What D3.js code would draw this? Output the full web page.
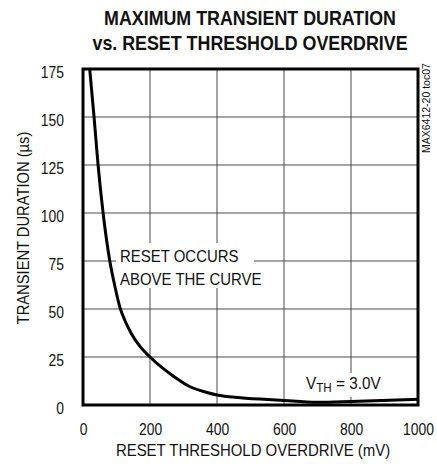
<!DOCTYPE html>
<html>
<head>
<meta charset="utf-8">
<script src="https://cdn.jsdelivr.net/npm/d3@7"></script>
<style>
  body { margin: 0; background: #fff; }
  text { font-family: "Liberation Sans", Arial, sans-serif; fill: #111; }
</style>
</head>
<body>
<script>
// overdrive (mV) vs max transient duration (us)
const overdrive = [20, 33, 45, 60, 80, 95, 110, 125, 145, 170, 200, 270, 320, 370, 400, 470, 590, 700, 800, 1000];
const duration  = [175, 150, 125, 100, 75, 62, 51, 44, 37, 30.5, 25, 15, 9.5, 6.5, 5.2, 3.8, 2.5, 1.4, 1.8, 3];

const xTicks = [0, 200, 400, 600, 800, 1000];
const yTicks = [0, 25, 50, 75, 100, 125, 150, 175];

const titleLines = ["MAXIMUM TRANSIENT DURATION", "vs. RESET THRESHOLD OVERDRIVE"];

const width = 437, height = 470;
const plotL = 83, plotR = 418, plotT = 69, plotB = 405;

const svg = d3.select("body").append("svg")
    .attr("width", width)
    .attr("height", height);

// no narrow font installed, so text is drawn inside a horizontally squeezed group
function label(x0, y0, str, size, sx, opts = {}) {
    const g = svg.append("g")
        .attr("transform", `translate(${x0}, ${y0})` + (opts.rot ? ` rotate(${opts.rot})` : "") + ` scale(${sx}, 1)`);
    const t = g.append("text")
        .attr("text-anchor", opts.anchor || "start")
        .style("font-size", size + "px")
        .style("font-weight", opts.bold ? "bold" : "normal")
        .text(str);
    return t;
}

const x = d3.scaleLinear().domain([0, 1000]).range([plotL, plotR]);
const y = d3.scaleLinear().domain([0, 175]).range([plotB, plotT]);

// title
titleLines.forEach((d, i) => label(250, 25 + i * 25, d, 21, 0.85, { anchor: "middle", bold: true }));

// grid
const grid = svg.append("g");
grid.selectAll(".vx")
    .data(xTicks.slice(1, -1))
    .enter().append("line")
    .attr("x1", d => x(d)).attr("x2", d => x(d))
    .attr("y1", plotT).attr("y2", plotB)
    .attr("stroke", "#4a4a4a").attr("stroke-width", 1);
grid.selectAll(".hy")
    .data(yTicks.slice(1, -1))
    .enter().append("line")
    .attr("y1", d => y(d)).attr("y2", d => y(d))
    .attr("x1", plotL).attr("x2", plotR)
    .attr("stroke", "#4a4a4a").attr("stroke-width", 1);

// curve, clipped to the frame
svg.append("clipPath").attr("id", "clip")
    .append("rect")
    .attr("x", plotL).attr("y", plotT)
    .attr("width", plotR - plotL).attr("height", plotB - plotT);

const pts = overdrive.map((v, i) => [v, duration[i]]);
const line = d3.line()
    .x(d => x(d[0]))
    .y(d => y(d[1]))
    .curve(d3.curveMonotoneX);

// annotation boxes hide the grid behind the text
svg.append("rect")
    .attr("x", 116).attr("y", 243).attr("width", 138).attr("height", 45)
    .attr("fill", "#fff");
svg.append("rect")
    .attr("x", 302).attr("y", 373).attr("width", 84).attr("height", 24)
    .attr("fill", "#fff");

svg.append("path")
    .datum(pts)
    .attr("clip-path", "url(#clip)")
    .attr("d", line)
    .attr("fill", "none")
    .attr("stroke", "#000")
    .attr("stroke-width", 3);

// frame
svg.append("rect")
    .attr("x", plotL).attr("y", plotT)
    .attr("width", plotR - plotL).attr("height", plotB - plotT)
    .attr("fill", "none")
    .attr("stroke", "#000")
    .attr("stroke-width", 3);

// axes
const tickSquash = 0.82;
const xAxis = svg.append("g")
    .attr("transform", `translate(0, ${plotB})`)
    .call(d3.axisBottom(x).tickValues(xTicks).tickFormat(d3.format("d")).tickSize(0).tickPadding(18));
const yAxis = svg.append("g")
    .attr("transform", `translate(${plotL}, 0)`)
    .call(d3.axisLeft(y).tickValues(yTicks).tickSize(0).tickPadding(19 / tickSquash));
[xAxis, yAxis].forEach(a => {
    a.select(".domain").remove();
    a.selectAll("text")
        .style("font-size", "17px")
        .style("font-family", '"Liberation Sans", Arial, sans-serif')
        .attr("fill", "#111")
        .attr("transform", `scale(${tickSquash}, 1)`);
});
yAxis.selectAll("text").attr("dy", "0.5em");

// axis titles
label(253, 456, "RESET THRESHOLD OVERDRIVE (mV)", 16, 0.935, { anchor: "middle" });
label(29, 228, "TRANSIENT DURATION (\u00b5s)", 16, 0.92, { anchor: "middle", rot: -90 });

// annotations
label(120, 262, "RESET OCCURS", 17, 0.88);
label(120, 285, "ABOVE THE CURVE", 17, 0.88);

const vth = label(306, 389, "", 17, 0.9);
vth.append("tspan").text("V");
vth.append("tspan").attr("dy", 3).style("font-size", "13px").text("TH");
vth.append("tspan").attr("dy", -3).text(" = 3.0V");

label(430, 153, "MAX6412-20 toc07", 10.5, 1, { rot: -90 });
</script>
</body>
</html>
